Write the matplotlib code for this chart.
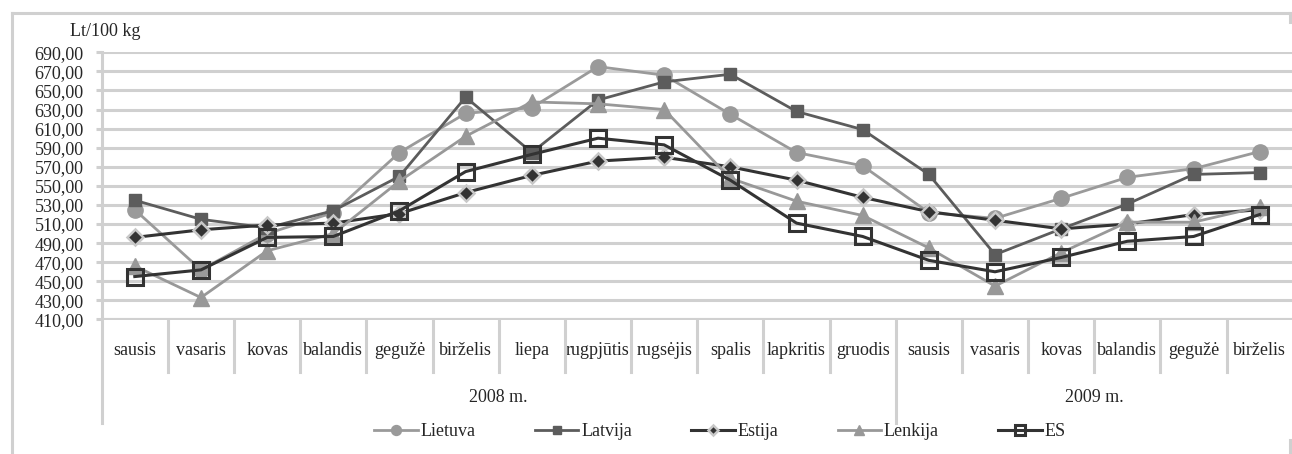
import matplotlib
matplotlib.use("Agg")
import matplotlib.pyplot as plt
from matplotlib.lines import Line2D
import matplotlib.transforms as mtransforms

# ---- data ----
months = ["sausis", "vasaris", "kovas", "balandis", "gegužė", "birželis", "liepa",
          "rugpjūtis", "rugsėjis", "spalis", "lapkritis", "gruodis",
          "sausis", "vasaris", "kovas", "balandis", "gegužė", "birželis"]
years = ["2008 m.", "2009 m."]
year_counts = [12, 6]

lietuva = [525, 462, 500, 522, 585, 626, 632, 675, 666, 625, 585, 571,
           522, 516, 537, 559, 568, 586]
latvija = [535, 515, 506, 524, 560, 643, 585, 640, 659, 667, 628, 609,
           562, 478, 505, 531, 562, 564]
estija = [496, 504, 509, 511, 521, 543, 561, 576, 580, 570, 556, 538,
          523, 514, 505, 510, 520, 525]
lenkija = [466, 433, 482, 500, 555, 602, 638, 636, 630, 558, 534, 519,
           485, 445, 480, 512, 512, 528]
es = [455, 462, 496, 497, 524, 565, 583, 600, 593, 556, 511, 497,
      472, 460, 475, 492, 497, 520]

yticks = list(range(410, 691, 20))
ylabel = "Lt/100 kg"

# ---- style ----
plt.rcParams["font.family"] = ["Liberation Serif", "DejaVu Serif"]
TXT = "#262626"
GRID = "#d0d0d0"

W, H = 1292, 454
fig = plt.figure(figsize=(W / 100, H / 100), dpi=100)
fig.patch.set_facecolor("white")

left_px, right_px, top_px, bot_px = 101.7, 1292.8, 52.3, 319.5
ax = fig.add_axes([left_px / W, 1 - bot_px / H, (right_px - left_px) / W, (bot_px - top_px) / H])

x = list(range(len(months)))

series = [
    ("Lietuva", lietuva, dict(color="#9a9a9a", marker="o", ms=11, mfc="#9a9a9a", mec="#9a9a9a", lw=2.0)),
    ("Latvija", latvija, dict(color="#5c5c5c", marker="s", ms=9, mfc="#5c5c5c", mec="#5c5c5c", lw=2.0)),
    ("Estija", estija, dict(color="#333333", marker="D", ms=8, mfc="#333333", mec="#c8c8c8", mew=1.8, lw=2.2)),
    ("Lenkija", lenkija, dict(color="#989898", marker="^", ms=12, mfc="#989898", mec="#989898", lw=2.0)),
    ("ES", es, dict(color="#333333", marker="s", ms=11, mfc="none", mec="#333333", mew=2.2, lw=2.2)),
]
for name, vals, kw in series:
    ax.plot(x, vals, label=name, zorder=3, **kw)

ax.set_xlim(-0.5, len(months) - 0.5)
ax.set_ylim(410, 690)
ax.set_yticks(yticks)
ax.set_yticklabels([f"{v},00" for v in yticks], fontsize=13, color=TXT)
ax.yaxis.grid(True, color=GRID, lw=2.2, zorder=0)
ax.set_axisbelow(True)
ax.tick_params(axis="y", length=4, width=2.2, color=GRID, pad=9)
for s in ["top", "right", "bottom", "left"]:
    ax.spines[s].set_visible(False)

ax.set_xticks(x)
ax.set_xticklabels(months, fontsize=13, color=TXT)
ax.tick_params(axis="x", length=0, pad=16)

# bottom line (410)
ax.axhline(410, color=GRID, lw=2.2, zorder=1)

trans = mtransforms.blended_transform_factory(ax.transData, ax.transAxes)
axh = bot_px - top_px
short = -52 / axh
long_ = -103.5 / axh
# vertical axis line
ax.plot([-0.5, -0.5], [1, long_], transform=trans, color=GRID, lw=2.2, clip_on=False, zorder=1)
# month separators
boundaries_year = []
acc = 0
for c in year_counts[:-1]:
    acc += c
    boundaries_year.append(acc - 0.5)
for k in range(len(months) - 1):
    b = k + 0.5
    y0 = long_ if b in boundaries_year else short
    ax.plot([b, b], [0, y0], transform=trans, color=GRID, lw=2.2, clip_on=False, zorder=1)

# year labels
start = 0
for yl, c in zip(years, year_counts):
    xc = start - 0.5 + c / 2
    ax.text(xc, -(397 - bot_px) / axh, yl, transform=trans, ha="center", va="center",
            fontsize=13, color=TXT)
    start += c

# y-axis title
fig.text(105 / W, 1 - 31 / H, ylabel, ha="center", va="center", fontsize=13, color=TXT)

# legend
leg = fig.legend(loc="center", bbox_to_anchor=(720 / W, 1 - 432 / H), ncol=5, frameon=False,
                 fontsize=13, handlelength=2.4, handletextpad=0.15, columnspacing=3.3,
                 markerscale=0.65)
for t in leg.get_texts():
    t.set_color(TXT)

# outer chart border
def fline(xs, ys):
    fig.add_artist(Line2D([v / W for v in xs], [1 - v / H for v in ys], color=GRID, lw=2.2,
                          transform=fig.transFigure, zorder=0))

fline([12, 12], [12.5, 460])
fline([12, 1290], [12.5, 12.5])
fline([1290, 1290], [12.5, 22])
fline([1290, 1290], [440, 460])

fig.savefig("out.png", dpi=100, facecolor="white")
